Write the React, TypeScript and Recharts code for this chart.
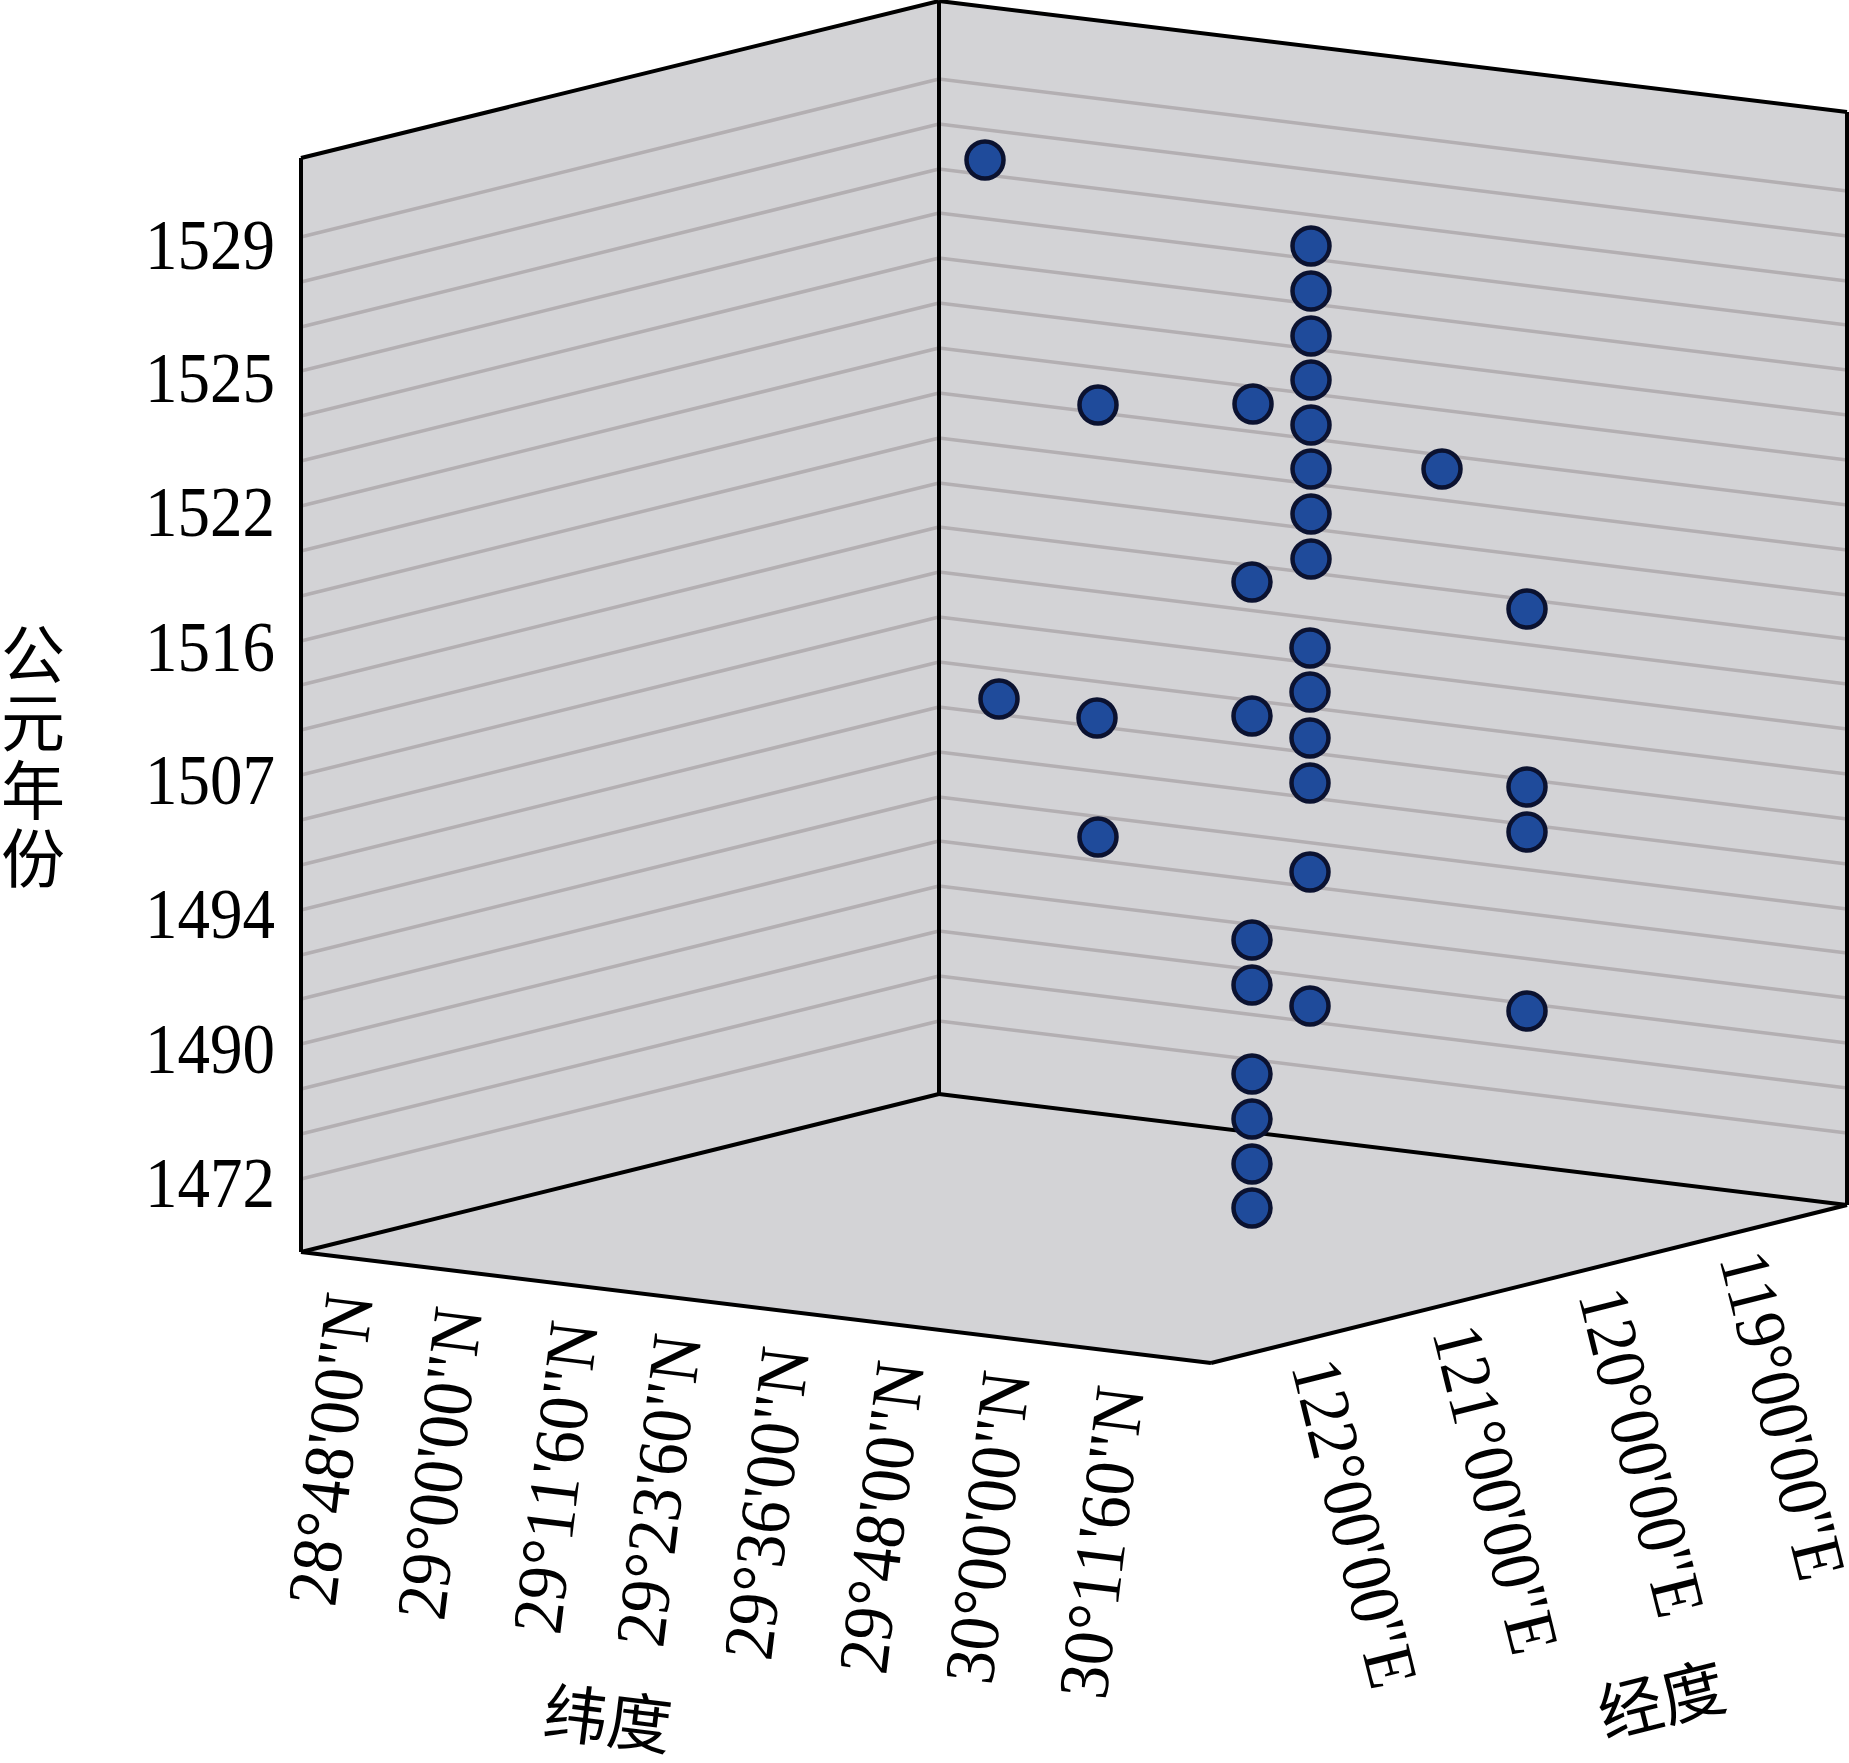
import React from "react";
import { ScatterChart, Scatter, XAxis, YAxis, ReferenceLine, ReferenceArea } from "recharts";

const W = 1849;
const H = 1763;

// Values are positions on the drawing plane of the 3-D projected box.
const pointX = [985, 1311, 1311, 1311, 1311, 1311, 1311, 1311, 1311, 1098, 1253, 1442, 1252, 1527, 1310, 1310, 1310, 1310, 999, 1097, 1252, 1527, 1527, 1098, 1310, 1252, 1252, 1310, 1527, 1252, 1252, 1252, 1252];
const pointY = [160, 246, 291, 336, 380, 425, 469, 514, 559, 405, 404, 469, 582, 609, 648, 692, 738, 783, 699, 718, 716, 787, 832, 837, 872, 940, 985, 1006, 1011, 1074, 1119, 1164, 1208];

const yearLabels = ["1529", "1525", "1522", "1516", "1507", "1494", "1490", "1472"];
const yearTicks = [246.5, 380, 514, 649, 782, 916, 1051, 1185];

const latLabels = [`28°48'00"N`, `29°00'00"N`, `29°11'60"N`, `29°23'60"N`, `29°36'00"N`, `29°48'00"N`, `30°00'00"N`, `30°11'60"N`];
const latTickX = [335, 444, 560, 663, 771, 886, 992, 1106];
const latTickY = [1608, 1622, 1636, 1649, 1662, 1676, 1686, 1701];

const lonLabels = [`122°00'00"E`, `121°00'00"E`, `120°00'00"E`, `119°00'00"E`];
const lonTickX = [1291, 1432, 1578, 1719];
const lonTickY = [1366, 1332, 1295, 1258];

const gridLevels = [79, 124, 169, 213, 258, 303, 348, 393, 438, 483, 527, 572, 617, 662, 707, 752, 797, 841, 886, 931, 976, 1021];
const leftX = 301;
const centerX = 939;
const rightX = 1847;
const leftDrop = 158;
const rightDrop = 112;

const wallLeft: number[][] = [[301, 158], [939, 1], [939, 1094], [301, 1252]];
const wallRight: number[][] = [[939, 1], [1847, 112], [1847, 1205], [939, 1094]];
const floor: number[][] = [[301, 1252], [939, 1094], [1847, 1205], [1211, 1363]];
const edges: number[][][] = [
  [[301, 158], [939, 1]], [[939, 1], [1847, 112]], [[301, 158], [301, 1252]],
  [[939, 1], [939, 1094]], [[1847, 112], [1847, 1205]], [[301, 1252], [939, 1094]],
  [[939, 1094], [1847, 1205]], [[301, 1252], [1211, 1363]], [[1211, 1363], [1847, 1205]],
];

const points = pointX.map((x, i) => ({ x, y: pointY[i] }));
const serif = "'Liberation Serif', 'Times New Roman', serif";
const cjk = "'Noto Sans CJK SC', sans-serif";

const Dot = (p: any) => (
  <circle cx={p.cx} cy={p.cy} r={18.5} fill="#1f4b9b" stroke="#0b1230" strokeWidth={4.5} />
);

const YearTick = (p: any) => {
  const i = yearTicks.indexOf(p.payload.value);
  return (
    <text x={145} y={p.y + 22} fontFamily={serif} fontSize={72} fill="#000" textLength={130} lengthAdjust="spacingAndGlyphs">
      {yearLabels[i]}
    </text>
  );
};

const GeoTick = (p: any) => {
  const v = p.payload.value;
  const li = latTickX.indexOf(v);
  const isLat = li >= 0;
  const i = isLat ? li : lonTickX.indexOf(v);
  const y = isLat ? latTickY[i] : lonTickY[i];
  const label = isLat ? latLabels[i] : lonLabels[i];
  const angle = isLat ? -83 : 76;
  const len = isLat ? 314 : 336;
  return (
    <text
      transform={`translate(${p.x},${y}) rotate(${angle})`}
      fontFamily={serif}
      fontSize={71}
      fill="#000"
      textLength={len}
      lengthAdjust="spacingAndGlyphs"
    >
      {label}
    </text>
  );
};

const Panels = (p: any) => {
  const sx = p.width / W;
  const sy = p.height / H;
  const poly = (pts: number[][]) => pts.map(([a, b]) => `${p.x + a * sx},${p.y + b * sy}`).join(" ");
  return (
    <g>
      <polygon points={poly(wallLeft)} fill="#d3d3d6" />
      <polygon points={poly(wallRight)} fill="#d3d3d6" />
      <polygon points={poly(floor)} fill="#d3d3d6" />
    </g>
  );
};

const Titles = () => (
  <g fontFamily={cjk} fontSize={64} fill="#000" fontWeight={400}>
    <text x={33} y={622} textAnchor="start" style={{ writingMode: "vertical-rl", letterSpacing: 4 }}>公元年份</text>
    <text transform="translate(607,1725) rotate(7)" textAnchor="middle" dominantBaseline="middle">纬度</text>
    <text transform="translate(1663,1706) rotate(-14)" textAnchor="middle" dominantBaseline="middle">经度</text>
  </g>
);

export default function App() {
  return (
    <div style={{ position: "absolute", left: 0, top: 0, width: W, height: H, background: "#fff" }}>
      <ScatterChart width={W} height={H} margin={{ top: 0, right: 0, bottom: 0, left: 0 }}>
        <XAxis
          type="number"
          dataKey="x"
          domain={[0, W]}
          ticks={[...latTickX, ...lonTickX]}
          interval={0}
          height={60}
          mirror
          axisLine={false}
          tickLine={false}
          tick={(p: any) => <GeoTick {...p} />}
        />
        <YAxis
          type="number"
          dataKey="y"
          domain={[0, H]}
          reversed
          ticks={yearTicks}
          interval={0}
          width={60}
          mirror
          axisLine={false}
          tickLine={false}
          tick={(p: any) => <YearTick {...p} />}
        />
        <ReferenceArea x1={0} x2={W} y1={0} y2={H} shape={<Panels />} ifOverflow="visible" />
        {gridLevels.map((l) => (
          <ReferenceLine
            key={`l${l}`}
            segment={[{ x: leftX, y: l + leftDrop }, { x: centerX, y: l }]}
            stroke="#b3afb2"
            strokeWidth={3.5}
            ifOverflow="visible"
          />
        ))}
        {gridLevels.map((l) => (
          <ReferenceLine
            key={`r${l}`}
            segment={[{ x: centerX, y: l }, { x: rightX, y: l + rightDrop }]}
            stroke="#b3afb2"
            strokeWidth={3.5}
            ifOverflow="visible"
          />
        ))}
        {edges.map((e, i) => (
          <ReferenceLine
            key={`e${i}`}
            segment={[{ x: e[0][0], y: e[0][1] }, { x: e[1][0], y: e[1][1] }]}
            stroke="#000"
            strokeWidth={4}
            ifOverflow="visible"
          />
        ))}
        <Scatter data={points} shape={<Dot />} isAnimationActive={false} />
      </ScatterChart>
      <svg width={W} height={H} style={{ position: "absolute", left: 0, top: 0, pointerEvents: "none" }}>
        <Titles />
      </svg>
    </div>
  );
}
